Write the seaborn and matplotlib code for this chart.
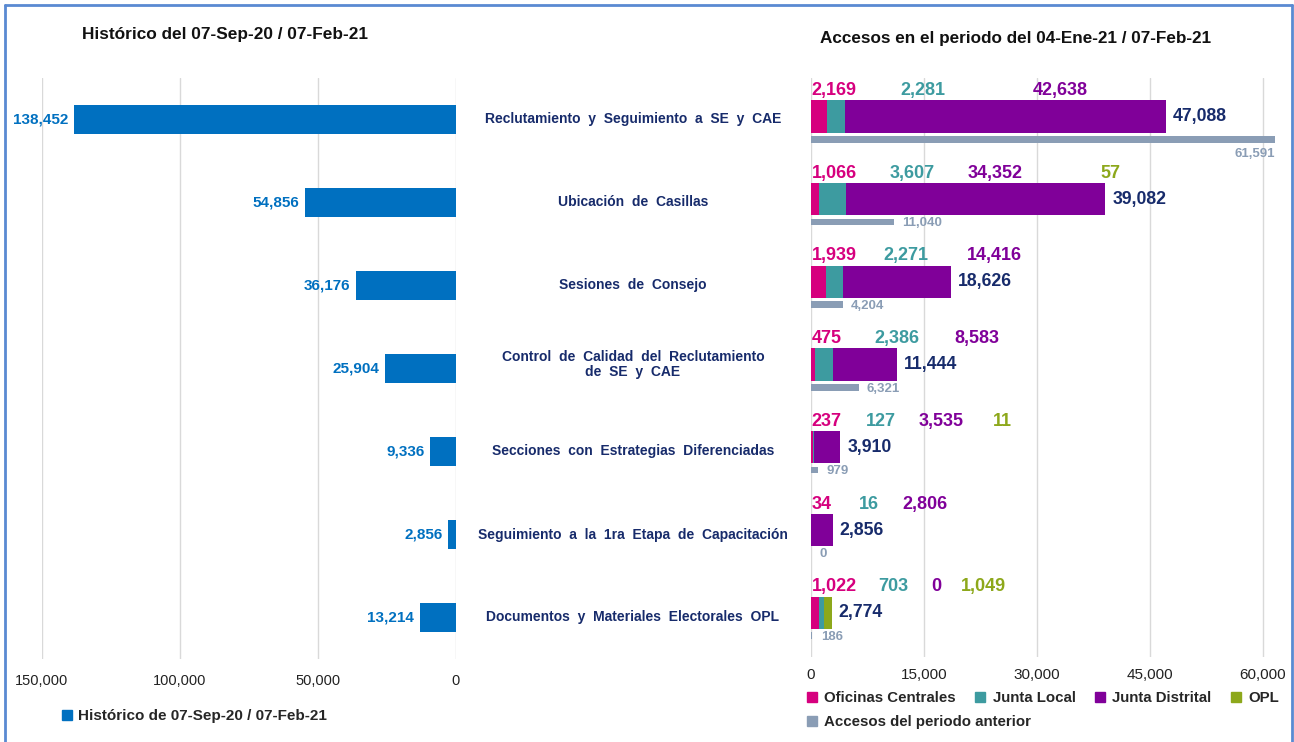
import numpy as np
import matplotlib
matplotlib.use('Agg')
import matplotlib.pyplot as plt
import matplotlib.transforms as mtransforms
from matplotlib.patches import Patch
import seaborn as sns

# colours picked off the original slide
COL_HIST   = '#0070C0'
COL_OC     = '#D6007E'
COL_JL     = '#3D9BA0'
COL_JD     = '#800099'
COL_OPL    = '#8DA81B'
COL_PREV   = '#8A9DB5'
COL_NAVY   = '#172B6B'
COL_BORDER = '#5A8AD2'
COL_GRID   = '#D9D9D9'

# data
categorias = [
    'Reclutamiento  y  Seguimiento  a  SE  y  CAE',
    'Ubicación  de  Casillas',
    'Sesiones  de  Consejo',
    'Control  de  Calidad  del  Reclutamiento\nde  SE  y  CAE',
    'Secciones  con  Estrategias  Diferenciadas',
    'Seguimiento  a  la  1ra  Etapa  de  Capacitación',
    'Documentos  y  Materiales  Electorales  OPL',
]
historico        = [138452, 54856, 36176, 25904, 9336, 2856, 13214]
oficinas_central = [2169, 1066, 1939, 475, 237, 34, 1022]
junta_local      = [2281, 3607, 2271, 2386, 127, 16, 703]
junta_distrital  = [42638, 34352, 14416, 8583, 3535, 2806, 0]
opl              = [np.nan, 57, np.nan, np.nan, 11, np.nan, 1049]
periodo_anterior = [61591, 11040, 4204, 6321, 979, 0, 186]

hist_ticks  = [150000, 100000, 50000, 0]
right_ticks = [0, 15000, 30000, 45000, 60000]

# spacing (px) between the little coloured labels above each stacked bar
label_gaps = [[44, 87], [33, 33, 77], [27, 38], [33, 35], [24, 23, 29], [27, 24], [21, 23, 20]]

sns.set_style('white')
plt.rcParams['font.family'] = ['Liberation Sans', 'DejaVu Sans']

W, H = 1294, 742
fig = plt.figure(figsize=(W / 100, H / 100), dpi=100)

def px_axes(x0, x1, y0, y1):
    return fig.add_axes([x0 / W, 1 - y1 / H, (x1 - x0) / W, (y1 - y0) / H])

ax_l = px_axes(42, 456, 78, 659)
ax_r = px_axes(811, 1275, 78, 657)

pos = np.arange(len(categorias))

# ---- left: historic totals ----
sns.barplot(x=historico, y=pos, orient='y', native_scale=True, width=0.36,
            color=COL_HIST, saturation=1, linewidth=0, errorbar=None, ax=ax_l)
ax_l.set_xlim(150000, 0)
ax_l.set_ylim(len(pos) - 0.5, -0.5)
ax_l.set_xticks(hist_ticks)
ax_l.set_xticklabels([f'{t:,}' for t in hist_ticks], fontsize=10.5, color='#222222')
ax_l.set_yticks([])
ax_l.grid(axis='x', color=COL_GRID, linewidth=1)
ax_l.set_axisbelow(True)
ax_l.tick_params(axis='x', length=0, pad=11)
for s in ax_l.spines.values():
    s.set_visible(False)
ax_l.set_xlabel('')
ax_l.set_ylabel('')

for i, v in enumerate(historico):
    ax_l.annotate(f'{v:,}', xy=(v, i), xytext=(-4, 0), textcoords='offset points',
                  ha='right', va='center', fontsize=11, fontweight='bold',
                  color=COL_HIST, annotation_clip=False)

# category names in the middle
tr = mtransforms.blended_transform_factory(fig.transFigure, ax_l.transData)
for i, c in enumerate(categorias):
    fig.text(633 / W, i - (0.05 if '\n' in c else 0), c, transform=tr, ha='center',
             va='center', ma='center', fontsize=10, fontweight='bold', color=COL_NAVY,
             linespacing=1.1)

# ---- right: current period, stacked via cumulative overlays ----
opl0 = np.nan_to_num(np.array(opl, dtype=float))
cum_oc = np.array(oficinas_central, dtype=float)
cum_jl = cum_oc + np.array(junta_local)
cum_jd = cum_jl + np.array(junta_distrital)
total = cum_jd + opl0

cur_pos = pos - 0.035
prev_pos = pos + 0.24
for vals, col in [(total, COL_OPL), (cum_jd, COL_JD), (cum_jl, COL_JL), (cum_oc, COL_OC)]:
    sns.barplot(x=vals, y=cur_pos, orient='y', native_scale=True, width=0.39,
                color=col, saturation=1, linewidth=0, errorbar=None, ax=ax_r)
sns.barplot(x=periodo_anterior, y=prev_pos, orient='y', native_scale=True, width=0.08,
            color=COL_PREV, saturation=1, linewidth=0, errorbar=None, ax=ax_r)
for p in ax_r.patches:
    p.set_clip_on(False)

ax_r.set_xlim(0, 61600)
ax_r.set_ylim(len(pos) - 0.5, -0.5)
ax_r.set_xticks(right_ticks)
ax_r.set_xticklabels([f'{t:,}' for t in right_ticks], fontsize=11, color='#222222')
ax_r.set_yticks([])
ax_r.grid(axis='x', color=COL_GRID, linewidth=1)
ax_r.set_axisbelow(True)
ax_r.tick_params(axis='x', length=0, pad=8)
for s in ax_r.spines.values():
    s.set_visible(False)
ax_r.set_xlabel('')
ax_r.set_ylabel('')

bar_top = cur_pos - 0.39 / 2
for i in range(len(pos)):
    vals = [(oficinas_central[i], COL_OC), (junta_local[i], COL_JL), (junta_distrital[i], COL_JD)]
    if not np.isnan(opl[i]):
        vals.append((int(opl[i]), COL_OPL))
    prev = None
    for k, (v, col) in enumerate(vals):
        if prev is None:
            prev = ax_r.annotate(f'{v:,}', xy=(0, bar_top[i]), xytext=(0.5, 1),
                                 textcoords='offset points', ha='left', va='bottom',
                                 fontsize=13, fontweight='bold', color=col,
                                 annotation_clip=False)
        else:
            prev = ax_r.annotate(f'{v:,}', xy=(1, 0), xycoords=prev,
                                 xytext=(label_gaps[i][k - 1] * 0.72, 0),
                                 textcoords='offset points', ha='left', va='bottom',
                                 fontsize=13, fontweight='bold', color=col,
                                 annotation_clip=False)
    ax_r.annotate(f'{int(total[i]):,}', xy=(total[i], cur_pos[i]), xytext=(5, 0),
                  textcoords='offset points', ha='left', va='center',
                  fontsize=12.7, fontweight='bold', color=COL_NAVY, annotation_clip=False)
    pv = periodo_anterior[i]
    if pv == max(periodo_anterior):
        ax_r.annotate(f'{pv:,}', xy=(pv, prev_pos[i]), xytext=(0, -6),
                      textcoords='offset points', ha='right', va='top',
                      fontsize=9.5, fontweight='bold', color=COL_PREV, annotation_clip=False)
    else:
        ax_r.annotate(f'{pv:,}', xy=(pv, prev_pos[i]), xytext=(6, -1),
                      textcoords='offset points', ha='left', va='center',
                      fontsize=9.5, fontweight='bold', color=COL_PREV, annotation_clip=False)

# titles
fig.text(82 / W, 1 - 35 / H, 'Histórico del 07-Sep-20 / 07-Feb-21', ha='left', va='center',
         fontsize=12.4, fontweight='bold', color='#111111')
fig.text(820 / W, 1 - 38 / H, 'Accesos en el periodo del 04-Ene-21 / 07-Feb-21', ha='left',
         va='center', fontsize=12.3, fontweight='bold', color='#111111')

# legends
fig.legend(handles=[Patch(color=COL_HIST, label='Histórico de 07-Sep-20 / 07-Feb-21')],
           loc='center left', bbox_to_anchor=(48 / W, 1 - 716 / H), frameon=False,
           handlelength=0.65, handleheight=0.65, handletextpad=0.4,
           prop={'size': 11, 'weight': 'bold'})

leg_row1 = [
    Patch(color=COL_OC, label='Oficinas Centrales'),
    Patch(color=COL_JL, label='Junta Local'),
    Patch(color=COL_JD, label='Junta Distrital'),
    Patch(color=COL_OPL, label='OPL'),
]
fig.legend(handles=leg_row1, loc='center left', bbox_to_anchor=(801 / W, 1 - 698 / H),
           ncol=4, frameon=False, handlelength=0.65, handleheight=0.65, handletextpad=0.5,
           columnspacing=1.3, borderaxespad=0, prop={'size': 10.8, 'weight': 'bold'})
fig.legend(handles=[Patch(color=COL_PREV, label='Accesos del periodo anterior')],
           loc='center left', bbox_to_anchor=(801 / W, 1 - 722 / H), frameon=False,
           handlelength=0.65, handleheight=0.65, handletextpad=0.5, borderaxespad=0,
           prop={'size': 10.8, 'weight': 'bold'})

# slide frame
for xs, ys in [([5, 5], [742, 5]), ([5, 1292], [5, 5]), ([1292, 1292], [5, 742])]:
    fig.add_artist(plt.Line2D([x / W for x in xs], [1 - y / H for y in ys],
                              transform=fig.transFigure, color=COL_BORDER, linewidth=2))

fig.savefig('out.png', dpi=100)
plt.close(fig)
